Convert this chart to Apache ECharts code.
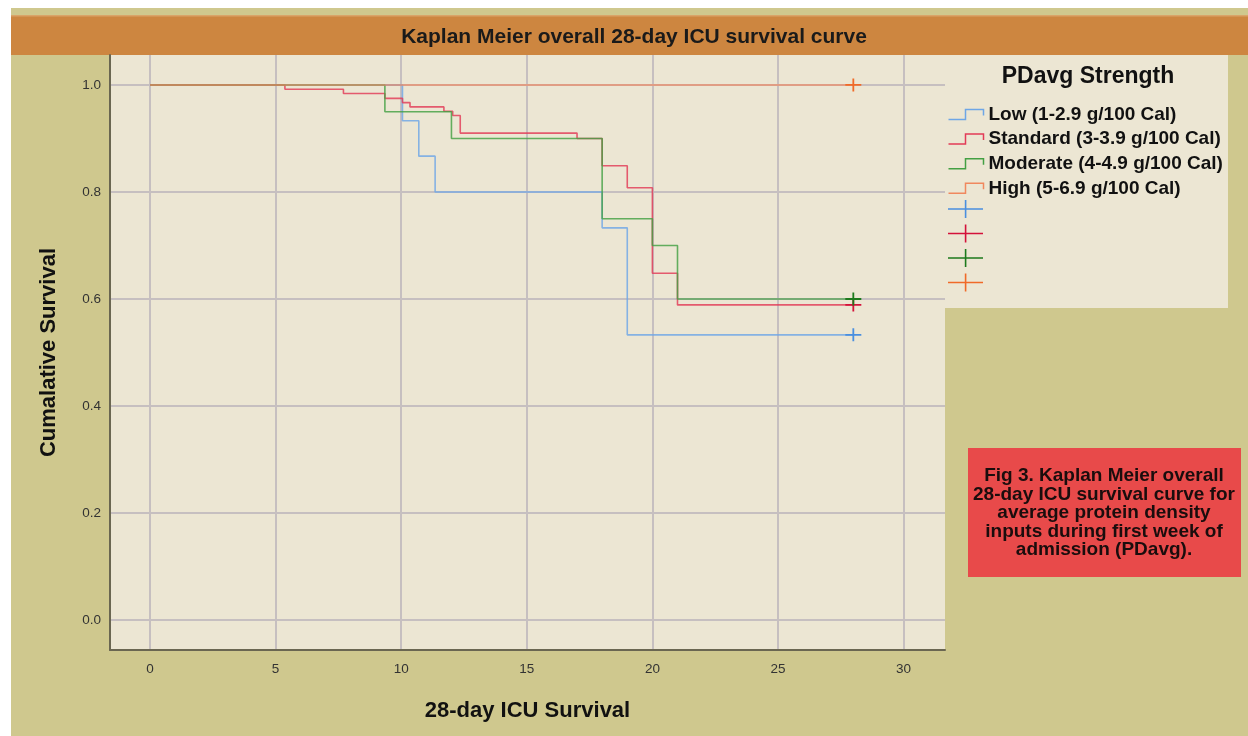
<!DOCTYPE html>
<html>
<head>
<meta charset="utf-8">
<title>Kaplan Meier overall 28-day ICU survival curve</title>
<script src="https://cdn.jsdelivr.net/npm/echarts@6/dist/echarts.min.js"></script>
<style>
html, body { margin: 0; padding: 0; background: #fff; }
#chart {
  width: 1248px;
  height: 736px;
  background: linear-gradient(#cfc88e, #cfc88e) 11px 8px / 1237px 728px no-repeat, #fff;
}
</style>
</head>
<body>
<div id="chart"></div>
<script>
// step points: time (days) and cumulative survival after each drop
const groupNames = ['Low (1-2.9 g/100 Cal)', 'Standard (3-3.9 g/100 Cal)', 'Moderate (4-4.9 g/100 Cal)', 'High (5-6.9 g/100 Cal)']
const censorNames = ['Low censored', 'Standard censored', 'Moderate censored', 'High censored']

const lowTimes = [0, 10.05, 10.7, 11.35, 18.0, 19.0, 28]
const lowSurv = [1, 0.933, 0.867, 0.8, 0.733, 0.533, 0.533]

const standardTimes = [0, 5.37, 7.7, 9.35, 10.05, 10.35, 11.7, 12.05, 12.35, 17.0, 18.0, 19.0, 20.0, 21.0, 28]
const standardSurv = [1, 0.992, 0.984, 0.975, 0.967, 0.959, 0.951, 0.943, 0.91, 0.9, 0.849, 0.808, 0.648, 0.589, 0.589]

const moderateTimes = [0, 9.35, 12.0, 18.0, 20.0, 21.0, 28]
const moderateSurv = [1, 0.95, 0.9, 0.75, 0.7, 0.6, 0.6]

const highTimes = [0, 28]
const highSurv = [1, 1]

// censored cases, all at day 28
const censorTimes = [28, 28, 28, 28]
const censorSurv = [0.533, 0.589, 0.6, 1.0]

const xTicks = [0, 5, 10, 15, 20, 25, 30]
const yTicks = [0, 0.2, 0.4, 0.6, 0.8, 1.0]

const lineColors = ['#6ea6e6', '#e23b57', '#43a043', '#f0885e']
const censorColors = ['#4a8fdf', '#d4123a', '#1d7a1d', '#f06a28']

const font = "'Liberation Sans', Arial, sans-serif"

const stepIcon = 'path://M0,0 M0,14 L17,14 L17,4 L35,4 L35,10 M35,18'
const plusIcon = 'path://M0,8.2 L35,8.2 L35,9.8 L0,9.8 Z M16.8,0 L18.4,0 L18.4,18 L16.8,18 Z'
const plusMark = 'path://M0,5.6 L16,5.6 L16,7.4 L0,7.4 Z M7.1,0 L8.9,0 L8.9,13 L7.1,13 Z'

const groups = [
  [lowTimes, lowSurv],
  [standardTimes, standardSurv],
  [moderateTimes, moderateSurv],
  [highTimes, highSurv]
]

const lineSeries = groups.map((g, i) => ({
  name: groupNames[i],
  type: 'line',
  step: 'end',
  symbol: 'none',
  silent: true,
  z: 3 + i,
  lineStyle: { color: lineColors[i], width: 1.6, opacity: 0.82 },
  itemStyle: { color: lineColors[i] },
  data: g[0].map((t, k) => [t, g[1][k]])
}))

const censorSeries = censorNames.map((n, i) => ({
  name: n,
  type: 'scatter',
  symbol: plusMark,
  symbolSize: [16, 13],
  silent: true,
  z: 10,
  itemStyle: { color: censorColors[i], opacity: 1 },
  data: [[censorTimes[i], censorSurv[i]]]
}))

const gridLine = { color: '#c6bfc0', width: 2 }
const axisLineStyle = { color: '#6a6651', width: 2 }
const legendText = { fontSize: 19, fontWeight: 'bold', color: '#111', fontFamily: font }

const option = {
  animation: false,
  textStyle: { fontFamily: font },
  grid: {
    left: 110,
    top: 55,
    right: 303,
    bottom: 86,
    show: true,
    backgroundColor: '#ece6d3',
    borderWidth: 0,
    containLabel: false,
    outerBoundsMode: 'none'
  },
  xAxis: {
    type: 'value',
    min: -1.594,
    max: 31.65,
    splitNumber: 6,
    name: '28-day ICU Survival',
    nameLocation: 'middle',
    nameGap: 50,
    nameTextStyle: { fontSize: 22, fontWeight: 'bold', color: '#111', fontFamily: font },
    axisLine: { show: true, onZero: false, lineStyle: axisLineStyle },
    axisTick: { show: false },
    axisLabel: {
      color: '#333',
      fontSize: 13.5,
      margin: 12,
      showMinLabel: false,
      showMaxLabel: false,
      formatter: v => (xTicks.includes(v) ? String(v) : '')
    },
    splitLine: { show: true, showMinLine: false, showMaxLine: false, lineStyle: gridLine }
  },
  yAxis: {
    type: 'value',
    min: -0.056,
    max: 1.056,
    splitNumber: 5,
    name: 'Cumalative Survival',
    nameLocation: 'middle',
    nameGap: 50,
    nameTextStyle: { fontSize: 22, fontWeight: 'bold', color: '#111', fontFamily: font },
    axisLine: { show: true, onZero: false, lineStyle: axisLineStyle },
    axisTick: { show: false },
    axisLabel: {
      color: '#333',
      fontSize: 13.5,
      margin: 9,
      showMinLabel: false,
      showMaxLabel: false,
      formatter: v => {
        const hit = yTicks.find(t => Math.abs(t - v) < 1e-6)
        return hit === undefined ? '' : hit.toFixed(1)
      }
    },
    splitLine: { show: true, showMinLine: false, showMaxLine: false, lineStyle: gridLine }
  },
  // two stacked legends: the named step lines, then the unlabeled censor marks
  legend: [
    {
      orient: 'vertical',
      left: 946,
      top: 103,
      padding: 0,
      itemWidth: 35,
      itemHeight: 18,
      itemGap: 1.6,
      selectedMode: false,
      textStyle: legendText,
      data: groupNames.map((n, i) => ({
        name: n,
        icon: stepIcon,
        itemStyle: { color: 'none', borderColor: lineColors[i], borderWidth: 1.5 }
      }))
    },
    {
      orient: 'vertical',
      left: 948,
      top: 200,
      padding: 0,
      itemWidth: 35,
      itemHeight: 18,
      itemGap: 6.5,
      selectedMode: false,
      textStyle: legendText,
      formatter: () => '',
      data: censorNames.map((n, i) => ({
        name: n,
        icon: plusIcon,
        itemStyle: { color: censorColors[i], borderWidth: 0 }
      }))
    }
  ],
  graphic: [
    {
      type: 'rect',
      z: 0,
      shape: { x: 11, y: 15, width: 1237, height: 40 },
      style: { fill: '#cd8640' }
    },
    {
      type: 'rect',
      z: 0,
      shape: { x: 11, y: 15, width: 1237, height: 1.5 },
      style: { fill: '#d9a468' }
    },
    {
      type: 'text',
      z: 1,
      x: 634,
      y: 37,
      style: {
        text: 'Kaplan Meier overall 28-day ICU survival curve',
        font: 'bold 21px ' + font,
        fill: '#1a1a1a',
        align: 'center',
        verticalAlign: 'middle'
      }
    },
    {
      type: 'rect',
      z: 0,
      shape: { x: 945, y: 55, width: 283, height: 253 },
      style: { fill: '#ece6d3' }
    },
    {
      type: 'text',
      z: 1,
      x: 1088,
      y: 77,
      style: {
        text: 'PDavg Strength',
        font: 'bold 23px ' + font,
        fill: '#111',
        align: 'center',
        verticalAlign: 'middle'
      }
    },
    {
      type: 'rect',
      z: 0,
      shape: { x: 968, y: 448, width: 273, height: 129 },
      style: { fill: '#e84a4a' }
    },
    {
      type: 'text',
      z: 1,
      x: 1104,
      y: 513,
      style: {
        text: 'Fig 3. Kaplan Meier overall\n28-day ICU survival curve for\naverage protein density\ninputs during first week of\nadmission (PDavg).',
        font: 'bold 19px ' + font,
        lineHeight: 18.5,
        fill: '#1a0d0d',
        align: 'center',
        verticalAlign: 'middle'
      }
    }
  ],
  series: lineSeries.concat(censorSeries)
}

const chart = echarts.init(document.getElementById('chart'))
chart.setOption(option)
</script>
</body>
</html>
